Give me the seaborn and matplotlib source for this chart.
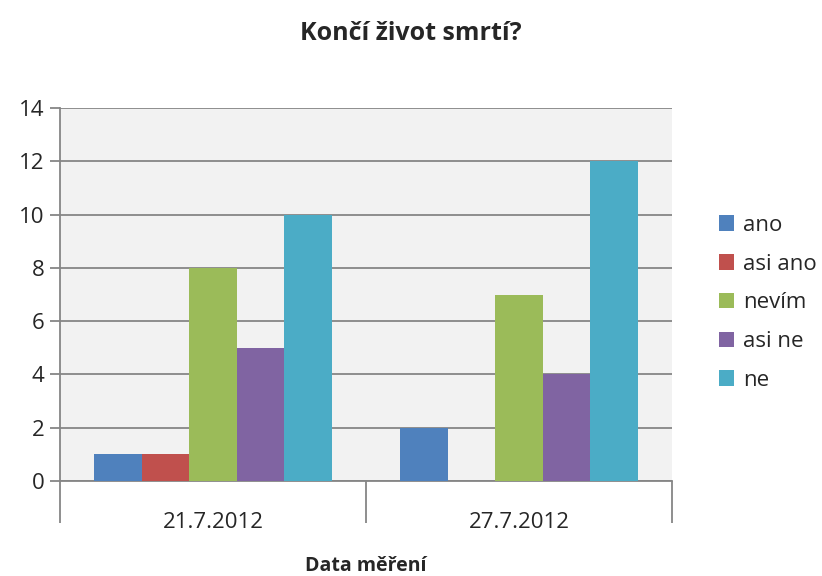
import matplotlib
matplotlib.use("Agg")
import matplotlib.pyplot as plt
import seaborn as sns
import pandas as pd

dates = ["21.7.2012", "27.7.2012"]
answers = ["ano", "asi ano", "nevím", "asi ne", "ne"]
counts_21 = [1, 1, 8, 5, 10]
counts_27 = [2, 0, 7, 4, 12]
colors = ["#4F81BD", "#C0504D", "#9BBB59", "#8064A2", "#4BACC6"]

df = pd.DataFrame({
    "date": [dates[0]] * 5 + [dates[1]] * 5,
    "answer": answers * 2,
    "count": counts_21 + counts_27,
})

sns.set_style("white")
plt.rcParams["font.family"] = ["Open Sans", "DejaVu Sans"]

fig = plt.figure(figsize=(8.22, 5.76), dpi=100)
ax = fig.add_axes([60 / 822, 1 - 481 / 576, 612 / 822, 373 / 576])
ax.set_facecolor("#F2F2F2")

sns.barplot(data=df, x="date", y="count", hue="answer", hue_order=answers,
            palette=colors, width=0.775, gap=0, saturation=1,
            linewidth=0, ax=ax, zorder=3)

ax.set_xlim(-0.5, 1.5)
ax.set_ylim(0, 14)
ax.set_yticks(range(0, 15, 2))
ax.yaxis.grid(True, color="#868686", linewidth=1.3, zorder=0)
ax.set_axisbelow(True)

for s in ["top", "right"]:
    ax.spines[s].set_visible(False)
for s in ["left", "bottom"]:
    ax.spines[s].set_color("#868686")
    ax.spines[s].set_linewidth(1.3)

ax.tick_params(axis="y", length=7, width=1.3, color="#868686",
               labelsize=16, pad=4, left=True)
ax.set_xticks([0, 1])
ax.set_xticks([-0.5, 0.5, 1.5], minor=True)
ax.tick_params(axis="x", which="major", length=0, labelsize=16, pad=22)
ax.tick_params(axis="x", which="minor", length=30, width=1.3,
               color="#868686", bottom=True)

ax.set_xlabel("")
ax.set_ylabel("")
fig.text(366 / 822, 1 - 566 / 576, "Data měření", fontsize=14,
         fontweight="bold", ha="center", va="center")
fig.text(411 / 822, 1 - 33 / 576, "Končí život smrtí?", fontsize=18,
         fontweight="bold", ha="center", va="center")

ax.legend(loc="upper left", bbox_to_anchor=(710 / 822, 1 - 206 / 576),
          bbox_transform=fig.transFigure, frameon=False, fontsize=16,
          handlelength=0.7, handleheight=0.7, handletextpad=0.4,
          labelspacing=0.8, borderaxespad=0)

fig.savefig("out.png", dpi=100)
